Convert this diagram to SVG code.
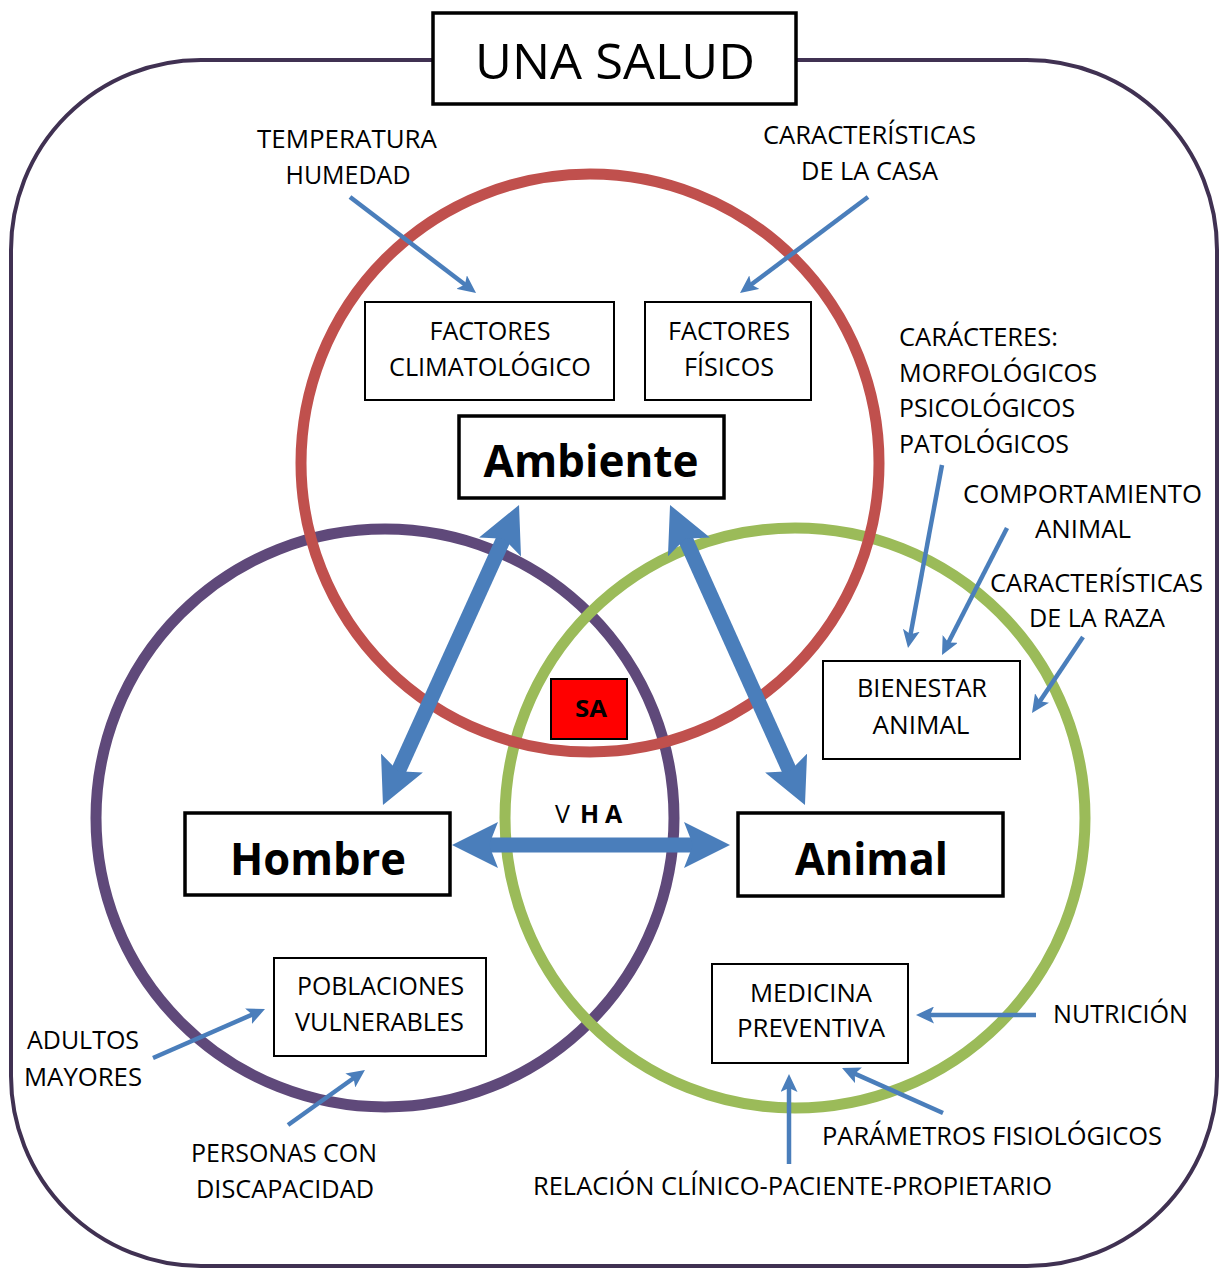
<svg xmlns="http://www.w3.org/2000/svg" width="1220" height="1268" viewBox="0 0 1220 1268">
<style>
.t{font-family:'Open Sans','Liberation Sans',sans-serif;font-size:25px;fill:#000;text-anchor:middle}
.tl{text-anchor:start}
.b{font-weight:bold}
.big{font-size:44px}
.box{fill:#fff;stroke:#000;stroke-width:2}
.bbox{fill:#fff;stroke:#000;stroke-width:3.5}
.circ{fill:none;stroke-width:11}
.thin{fill:none;stroke:#4a7ebb;stroke-width:4.5;marker-end:url(#hs)}
.thick{fill:none;stroke:#4a7ebb;stroke-width:15;marker-start:url(#hb);marker-end:url(#hb)}
</style>
<defs>
<marker id="hs" markerUnits="userSpaceOnUse" viewBox="0 0 18 17" markerWidth="18" markerHeight="17" refX="6" refY="8.5" orient="auto-start-reverse">
<path d="M0,0 L18,8.5 L0,17 L4,8.5 z" fill="#4a7ebb"/>
</marker>
<marker id="hb" markerUnits="userSpaceOnUse" viewBox="0 0 46 46" markerWidth="46" markerHeight="46" refX="20" refY="23" orient="auto-start-reverse">
<path d="M0,0 L46,23 L0,46 L9,23 z" fill="#4a7ebb"/>
</marker>
</defs>
<rect width="1220" height="1268" fill="#fff"/>

<g id="frame">
<rect x="11" y="60" width="1206" height="1206" rx="190" ry="190" fill="none" stroke="#403152" stroke-width="4"/>
</g>

<g id="circles">
<circle id="circle-hombre" cx="385" cy="818" r="289" class="circ" stroke="#5f497a"/>
<circle id="circle-animal" cx="795" cy="818" r="290" class="circ" stroke="#9bbb59"/>
<circle id="circle-ambiente" cx="590" cy="463" r="289" class="circ" stroke="#c0504d"/>
</g>

<g id="title">
<rect x="433" y="13" width="363" height="91" class="bbox"/>
<text x="615" y="79" class="t" font-size="50" style="font-size:50px" textLength="280" lengthAdjust="spacingAndGlyphs">UNA SALUD</text>
</g>

<g id="n-factores-clima">
<rect x="365" y="302" width="249" height="98" class="box"/>
<text x="490" y="340" class="t" textLength="121" lengthAdjust="spacingAndGlyphs">FACTORES</text>
<text x="490" y="376" class="t" textLength="202" lengthAdjust="spacingAndGlyphs">CLIMATOLÓGICO</text>
</g>
<g id="n-factores-fisicos">
<rect x="645" y="302" width="166" height="98" class="box"/>
<text x="729" y="340" class="t" textLength="122" lengthAdjust="spacingAndGlyphs">FACTORES</text>
<text x="729" y="376" class="t" textLength="90" lengthAdjust="spacingAndGlyphs">FÍSICOS</text>
</g>
<g id="n-ambiente">
<rect x="459" y="416" width="265" height="82" class="bbox"/>
<text x="591" y="477" class="t b big" textLength="215" lengthAdjust="spacingAndGlyphs">Ambiente</text>
</g>
<g id="n-hombre">
<rect x="185" y="813" width="265" height="82" class="bbox"/>
<text x="318" y="875" class="t b big" textLength="176" lengthAdjust="spacingAndGlyphs">Hombre</text>
</g>
<g id="n-animal">
<rect x="738" y="813" width="265" height="83" class="bbox"/>
<text x="871.5" y="875" class="t b big" textLength="153" lengthAdjust="spacingAndGlyphs">Animal</text>
</g>
<g id="n-bienestar">
<rect x="823" y="661" width="197" height="98" class="box"/>
<text x="922" y="697" class="t" textLength="130" lengthAdjust="spacingAndGlyphs">BIENESTAR</text>
<text x="921" y="734" class="t" textLength="97" lengthAdjust="spacingAndGlyphs">ANIMAL</text>
</g>
<g id="n-poblaciones">
<rect x="274" y="958" width="212" height="98" class="box"/>
<text x="380.5" y="995" class="t" textLength="167" lengthAdjust="spacingAndGlyphs">POBLACIONES</text>
<text x="379.5" y="1031" class="t" textLength="169" lengthAdjust="spacingAndGlyphs">VULNERABLES</text>
</g>
<g id="n-medicina">
<rect x="712" y="964" width="196" height="99" class="box"/>
<text x="811" y="1002" class="t" textLength="122" lengthAdjust="spacingAndGlyphs">MEDICINA</text>
<text x="811" y="1037" class="t" textLength="148" lengthAdjust="spacingAndGlyphs">PREVENTIVA</text>
</g>

<g id="connectors">
<line class="thick" x1="393.7" y1="781.3" x2="508.3" y2="528.7"/>
<line class="thick" x1="680.7" y1="528.7" x2="794.3" y2="781.3"/>
<line class="thick" x1="478" y1="845" x2="704" y2="845"/>
<line class="thin" x1="350" y1="197" x2="466.5" y2="285.7"/>
<line class="thin" x1="868" y1="197" x2="749.6" y2="285.8"/>
<line class="thin" x1="942" y1="465" x2="910.2" y2="636.2"/>
<line class="thin" x1="1007" y1="528" x2="947.5" y2="644.3"/>
<line class="thin" x1="1083" y1="637" x2="1038.7" y2="703"/>
<line class="thin" x1="153" y1="1058" x2="254" y2="1013.8"/>
<line class="thin" x1="288" y1="1125" x2="355.2" y2="1077"/>
<line class="thin" x1="1036" y1="1015" x2="928" y2="1015"/>
<line class="thin" x1="943" y1="1113" x2="853" y2="1072.9"/>
<line class="thin" x1="789" y1="1164" x2="789" y2="1086"/>
</g>

<g id="n-sa">
<rect x="551" y="679" width="76" height="60" fill="#ff0000" stroke="#000" stroke-width="2"/>
<text x="591" y="717" class="t b" style="font-size:24px" textLength="32" lengthAdjust="spacingAndGlyphs">SA</text>
</g>
<g id="l-vha">
<text y="823" class="t tl" style="font-size:25px"><tspan x="555">V</tspan><tspan x="580" font-weight="bold">H</tspan><tspan x="605" font-weight="bold">A</tspan></text>
</g>

<g id="labels">
<text x="347" y="148" class="t" textLength="180" lengthAdjust="spacingAndGlyphs">TEMPERATURA</text>
<text x="348" y="184" class="t" textLength="125" lengthAdjust="spacingAndGlyphs">HUMEDAD</text>
<text x="869.5" y="144" class="t" textLength="213" lengthAdjust="spacingAndGlyphs">CARACTERÍSTICAS</text>
<text x="869.5" y="180" class="t" textLength="137" lengthAdjust="spacingAndGlyphs">DE LA CASA</text>
<text x="899" y="346" class="t tl" textLength="159" lengthAdjust="spacingAndGlyphs">CARÁCTERES:</text>
<text x="899" y="382" class="t tl" textLength="198" lengthAdjust="spacingAndGlyphs">MORFOLÓGICOS</text>
<text x="899" y="417" class="t tl" textLength="176" lengthAdjust="spacingAndGlyphs">PSICOLÓGICOS</text>
<text x="899" y="453" class="t tl" textLength="170" lengthAdjust="spacingAndGlyphs">PATOLÓGICOS</text>
<text x="1082.5" y="503" class="t" textLength="239" lengthAdjust="spacingAndGlyphs">COMPORTAMIENTO</text>
<text x="1083" y="538" class="t" textLength="96" lengthAdjust="spacingAndGlyphs">ANIMAL</text>
<text x="1096.5" y="592" class="t" textLength="213" lengthAdjust="spacingAndGlyphs">CARACTERÍSTICAS</text>
<text x="1097" y="627" class="t" textLength="136" lengthAdjust="spacingAndGlyphs">DE LA RAZA</text>
<text x="83" y="1049" class="t" textLength="112" lengthAdjust="spacingAndGlyphs">ADULTOS</text>
<text x="83" y="1086" class="t" textLength="118" lengthAdjust="spacingAndGlyphs">MAYORES</text>
<text x="284" y="1162" class="t" textLength="186" lengthAdjust="spacingAndGlyphs">PERSONAS CON</text>
<text x="285" y="1198" class="t" textLength="178" lengthAdjust="spacingAndGlyphs">DISCAPACIDAD</text>
<text x="1120.5" y="1023" class="t" textLength="135" lengthAdjust="spacingAndGlyphs">NUTRICIÓN</text>
<text x="992" y="1145" class="t" textLength="340" lengthAdjust="spacingAndGlyphs">PARÁMETROS FISIOLÓGICOS</text>
<text x="792.5" y="1195" class="t" textLength="519" lengthAdjust="spacingAndGlyphs">RELACIÓN CLÍNICO-PACIENTE-PROPIETARIO</text>
</g>
</svg>
